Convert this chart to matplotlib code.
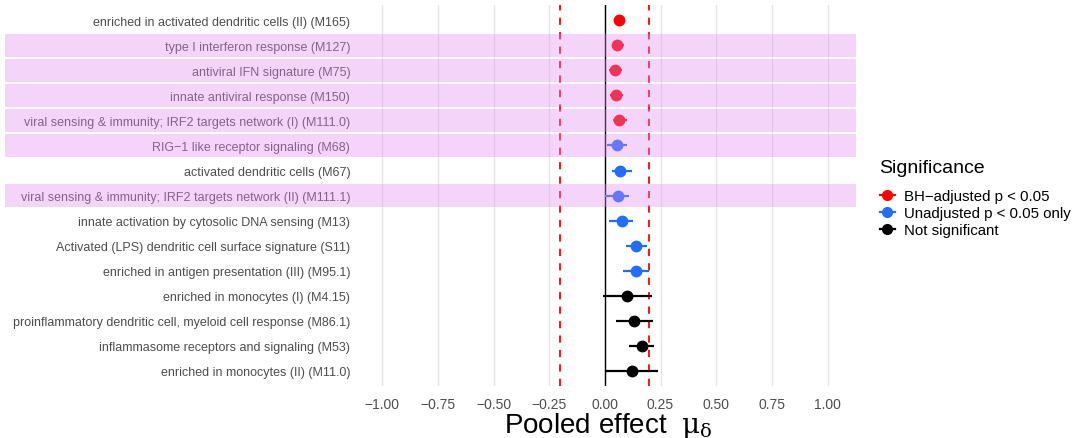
import matplotlib.pyplot as plt
from matplotlib.lines import Line2D
from matplotlib.patches import Rectangle
from matplotlib.transforms import blended_transform_factory

plt.rcParams['font.family'] = ['Liberation Sans', 'DejaVu Sans']
plt.rcParams['mathtext.fontset'] = 'dejavuserif'

# modules, top to bottom
modules = [
    "enriched in activated dendritic cells (II) (M165)",
    "type I interferon response (M127)",
    "antiviral IFN signature (M75)",
    "innate antiviral response (M150)",
    "viral sensing & immunity; IRF2 targets network (I) (M111.0)",
    "RIG\u22121 like receptor signaling (M68)",
    "activated dendritic cells (M67)",
    "viral sensing & immunity; IRF2 targets network (II) (M111.1)",
    "innate activation by cytosolic DNA sensing (M13)",
    "Activated (LPS) dendritic cell surface signature (S11)",
    "enriched in antigen presentation (III) (M95.1)",
    "enriched in monocytes (I) (M4.15)",
    "proinflammatory dendritic cell, myeloid cell response (M86.1)",
    "inflammasome receptors and signaling (M53)",
    "enriched in monocytes (II) (M11.0)",
]
effect = [0.063, 0.055, 0.045, 0.050, 0.065, 0.055, 0.070, 0.058, 0.075,
          0.140, 0.140, 0.100, 0.130, 0.165, 0.120]
ci_low = [0.045, 0.030, 0.020, 0.025, 0.035, 0.010, 0.030, 0.000, 0.020,
          0.095, 0.080, -0.010, 0.050, 0.110, 0.000]
ci_high = [0.080, 0.085, 0.075, 0.080, 0.100, 0.100, 0.120, 0.110, 0.125,
           0.190, 0.200, 0.210, 0.215, 0.220, 0.240]
signif = ["BH", "BH", "BH", "BH", "BH", "raw", "raw", "raw", "raw",
          "raw", "raw", "ns", "ns", "ns", "ns"]
highlighted = [False, True, True, True, True, True, False, True, False,
               False, False, False, False, False, False]

sig_colors = {"BH": "#FF0000", "raw": "#1F6EFF", "ns": "#000000"}
sig_labels = {"BH": "BH\u2212adjusted p < 0.05",
              "raw": "Unadjusted p < 0.05 only",
              "ns": "Not significant"}

fig = plt.figure(figsize=(10.8, 4.39), dpi=100)
ax = fig.add_axes([0.3333, 0.1185, 0.4593, 0.8675])

n = len(modules)
ypos = [n - i for i in range(n)]

for x in [-1, -0.75, -0.5, -0.25, 0, 0.25, 0.5, 0.75, 1]:
    ax.axvline(x, color="#E5E5E5", lw=1.0, zorder=0)
ax.axvline(0, color="black", lw=1.0, zorder=1)
for x in [-0.2, 0.2]:
    ax.axvline(x, color="#FF0000", lw=1.3, ls=(0, (4, 4)), zorder=1)

for y, e, lo, hi, s in zip(ypos, effect, ci_low, ci_high, signif):
    c = sig_colors[s]
    ax.plot([lo, hi], [y, y], color=c, lw=1.6, zorder=3, solid_capstyle="butt")
    ax.plot(e, y, "o", color=c, ms=7.5, zorder=4)

# pink highlight bands across the labels and the panel
tr = blended_transform_factory(fig.transFigure, ax.transData)
for y, h in zip(ypos, highlighted):
    if h:
        ax.add_patch(Rectangle((0.005, y - 0.46), 0.788, 0.92, transform=tr,
                               facecolor=(0.89, 0.55, 0.94), alpha=0.36,
                               edgecolor="none", clip_on=False, zorder=10))

ax.set_xlim(-1.1, 1.128)
ax.set_ylim(0.4, n + 0.6)
ax.set_xticks([-1, -0.75, -0.5, -0.25, 0, 0.25, 0.5, 0.75, 1])
ax.set_xticklabels(["\u22121.00", "\u22120.75", "\u22120.50", "\u22120.25", "0.00",
                    "0.25", "0.50", "0.75", "1.00"])
ax.set_yticks(ypos)
ax.set_yticklabels(modules)
ax.tick_params(axis="both", length=0, labelsize=9.0, labelcolor="#4D4D4D")
ax.tick_params(axis="y", pad=7)
ax.tick_params(axis="x", pad=8, labelsize=10)
for sp in ax.spines.values():
    sp.set_visible(False)
ax.set_xlabel(r"Pooled effect  $\mathrm{μ}_{\mathrm{δ}}$", fontsize=20, labelpad=-1)

handles = [Line2D([0], [0], color=sig_colors[k], marker="o", ms=7, lw=1.6)
           for k in ["BH", "raw", "ns"]]
leg = fig.legend(handles, [sig_labels[k] for k in ["BH", "raw", "ns"]],
                 title="Significance", loc="upper left",
                 bbox_to_anchor=(0.8075, 0.652), frameon=False, fontsize=10.8,
                 title_fontsize=14, handlelength=1.0, handletextpad=0.65,
                 labelspacing=0.2, borderpad=0)
leg._legend_box.align = "left"
leg._legend_box.sep = 9

fig.savefig("out.png", dpi=100)
